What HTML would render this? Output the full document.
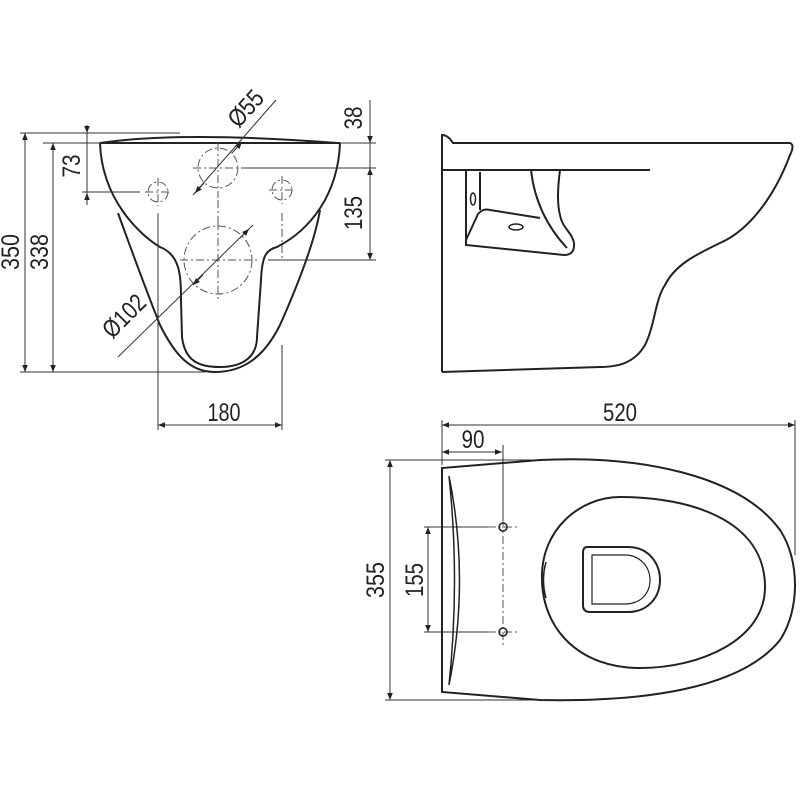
<!DOCTYPE html>
<html><head><meta charset="utf-8"><style>
html,body{margin:0;padding:0;background:#fff}
svg{display:block}
text{font-family:"Liberation Sans Narrow","Liberation Sans",sans-serif;font-size:25px;fill:#222}
.d{stroke:#333;stroke-width:1;fill:none}
.o{stroke:#222;stroke-width:2;fill:none}
.c{stroke:#555;stroke-width:1;fill:none;stroke-dasharray:8 3 2 3}
</style></head><body>
<svg width="800" height="800" viewBox="0 0 800 800">
<defs>
<marker id="a" viewBox="0 0 10 10" refX="10" refY="5" markerWidth="9" markerHeight="7" orient="auto-start-reverse" markerUnits="userSpaceOnUse"><path d="M0,1 L10,5 L0,9 z" fill="#222"/></marker>
</defs>

<!-- FRONT VIEW -->
<path class="o" d="M100,143 L340,143"/>
<path class="o" d="M100,143 Q180,131 337,143"/>
<path class="o" d="M100,143 C102,200 140,235 160,247 C180,255 181,275 181,300 L182,337 C185,362 200,367 220,367 C245,367 257,355 257,337 L261,280 C262,258 265,250 277,247 C310,230 338,195 340,143"/>
<path class="o" d="M118,213 C135,260 150,300 160,325 C175,355 190,372 215,372 C245,372 265,355 280,325 C300,280 315,240 320,210"/>
<circle class="c" cx="218" cy="168" r="20"/>
<path class="c" d="M193,168 H245 M218,143 V198 M218,200 V225 M180,260 H257 M218,222 V300"/>
<circle class="c" cx="158" cy="192" r="10"/>
<circle class="c" cx="282" cy="190" r="10"/>
<path class="c" d="M145,192 H172 M158,178 V206 M269,190 H296 M282,176 V204 M158,213 V260 M282,213 V260"/>
<circle class="c" cx="218" cy="260" r="34"/>
<!-- dims -->
<path class="d" d="M20,133 H180 M43,143 H100 M20,372 H205"/>
<line class="d" x1="25" y1="133" x2="25" y2="372" marker-start="url(#a)" marker-end="url(#a)"/>
<line class="d" x1="53" y1="143" x2="53" y2="372" marker-start="url(#a)" marker-end="url(#a)"/>
<text transform="translate(19,252) rotate(-90)" text-anchor="middle" textLength="36" lengthAdjust="spacingAndGlyphs">350</text>
<text transform="translate(48,252) rotate(-90)" text-anchor="middle" textLength="36" lengthAdjust="spacingAndGlyphs">338</text>
<path class="d" d="M82,192 H140 M87,128 V205"/>
<line class="d" x1="87" y1="125" x2="87" y2="133" marker-end="url(#a)"/>
<line class="d" x1="87" y1="202" x2="87" y2="193" marker-end="url(#a)"/>
<text transform="translate(80,166) rotate(-90)" text-anchor="middle" textLength="23" lengthAdjust="spacingAndGlyphs">73</text>
<path class="d" d="M340,143 H376 M245,168 H376 M268,260 H376 M370,100 V260"/>
<line class="d" x1="370" y1="130" x2="370" y2="143" marker-end="url(#a)"/>
<line class="d" x1="370" y1="168" x2="370" y2="260" marker-start="url(#a)" marker-end="url(#a)"/>
<text transform="translate(362,118) rotate(-90)" text-anchor="middle" textLength="23" lengthAdjust="spacingAndGlyphs">38</text>
<text transform="translate(362,213) rotate(-90)" text-anchor="middle" textLength="34" lengthAdjust="spacingAndGlyphs">135</text>
<path class="d" d="M158,215 V430 M282,345 V430"/>
<line class="d" x1="158" y1="425" x2="282" y2="425" marker-start="url(#a)" marker-end="url(#a)"/>
<text x="224" y="421" text-anchor="middle" textLength="33" lengthAdjust="spacingAndGlyphs">180</text>
<line class="d" x1="193" y1="195" x2="276" y2="100"/>
<line class="d" x1="195" y1="193" x2="204" y2="183" marker-start="url(#a)"/>
<line class="d" x1="242" y1="142" x2="232" y2="153" marker-start="url(#a)"/>
<text transform="translate(252,114) rotate(-48)" text-anchor="middle" textLength="40" lengthAdjust="spacingAndGlyphs">Ø55</text>
<line class="d" x1="118" y1="357" x2="253" y2="225"/>
<line class="d" x1="193" y1="285" x2="203" y2="275" marker-start="url(#a)"/>
<line class="d" x1="249" y1="229" x2="240" y2="238" marker-start="url(#a)"/>
<text transform="translate(130,322) rotate(-45)" text-anchor="middle" textLength="50" lengthAdjust="spacingAndGlyphs">Ø102</text>

<!-- SIDE VIEW -->
<path class="o" d="M442,372 V135 Q448,135 453,143 H790 Q795,145 790,155 C775,195 750,230 720,243 C695,255 675,265 665,285 C655,300 655,325 645,345 C635,362 620,367 600,367 L442,372"/>
<path class="o" d="M442,170 H650"/>
<path class="o" d="M466,170 V245 L564,255 Q575,255 574,243 C572,232 562,228 560,215 Q556,200 560,170"/>
<path class="o" d="M480,172 V210 M531,170 Q536,215 567,248 M466,240 L478,214 Q483,208 490,210 L540,218"/>
<ellipse class="o" cx="473" cy="199" rx="2.5" ry="6" style="stroke-width:1.5"/>
<ellipse class="o" cx="516" cy="227" rx="7" ry="3" style="stroke-width:1.5"/>

<!-- TOP VIEW -->
<path class="d" d="M442,420 V465 M795,420 V555 M503,445 V520"/>
<line class="d" x1="442" y1="425" x2="795" y2="425" marker-start="url(#a)" marker-end="url(#a)"/>
<text x="620" y="421" text-anchor="middle" textLength="34" lengthAdjust="spacingAndGlyphs">520</text>
<line class="d" x1="442" y1="452" x2="502" y2="452" marker-start="url(#a)" marker-end="url(#a)"/>
<text x="473" y="448" text-anchor="middle" textLength="23" lengthAdjust="spacingAndGlyphs">90</text>
<path class="d" d="M385,460 H532 M385,700 H540"/>
<line class="d" x1="390" y1="460" x2="390" y2="700" marker-start="url(#a)" marker-end="url(#a)"/>
<text transform="translate(384,580) rotate(-90)" text-anchor="middle" textLength="36" lengthAdjust="spacingAndGlyphs">355</text>
<path class="d" d="M424,527 H488 M424,632 H488"/>
<line class="d" x1="428" y1="527" x2="428" y2="632" marker-start="url(#a)" marker-end="url(#a)"/>
<text transform="translate(423,580) rotate(-90)" text-anchor="middle" textLength="34" lengthAdjust="spacingAndGlyphs">155</text>
<path class="c" d="M503,520 V645 M488,527 H518 M488,632 H518"/>
<circle class="o" cx="503" cy="527" r="4" style="stroke-width:1.5"/>
<circle class="o" cx="503" cy="632" r="4" style="stroke-width:1.5"/>
<path class="o" d="M442,468 V692 L540,700 C640,702 740,690 780,640 C800,610 800,560 780,530 C740,475 640,455 540,460 Z"/>
<path class="o" d="M449,476 Q470,580 449,685 Q460,580 449,476" style="stroke-width:1.5"/>
<path class="o" d="M542,580 C540,530 580,497 620,497 C690,497 765,520 765,587 C765,640 700,668 640,668 C580,668 543,630 542,580 Z"/>
<path class="o" d="M587,547 H628 C650,547 660,565 660,580 C660,597 648,612 628,612 H590 Q583,612 583,605 V553 Q583,547 587,547 Z"/>
<path class="o" d="M592,555 H625 C640,555 650,567 650,580 C650,594 640,604 625,604 H592 Z" style="stroke-width:1.2"/>
<path class="o" d="M546,562 Q541,580 546,598" style="stroke-width:1.5"/>
</svg>
</body></html>
